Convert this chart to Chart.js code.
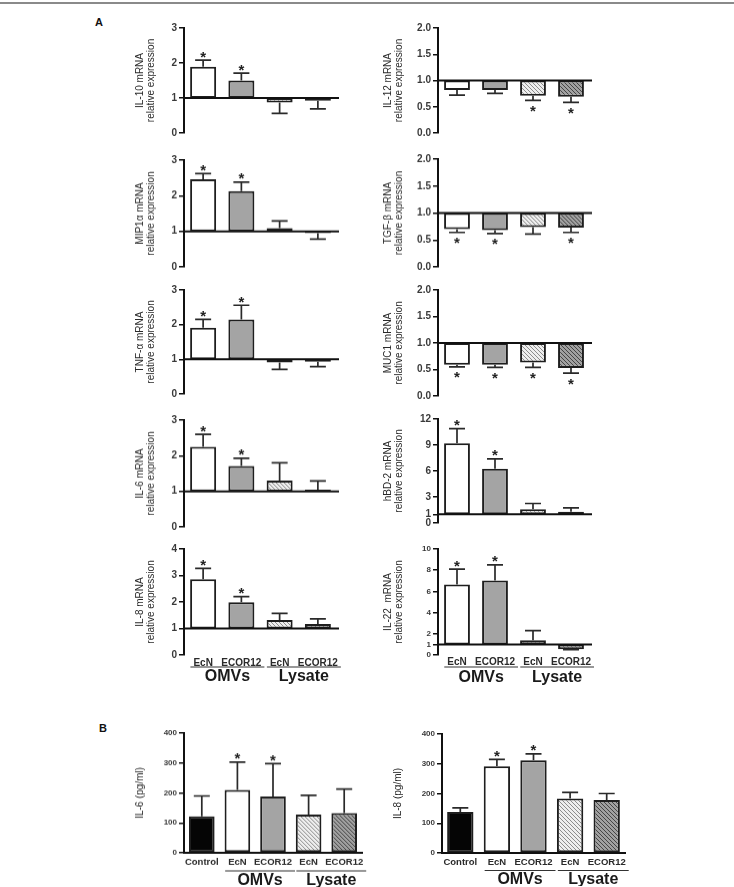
<!DOCTYPE html>
<html>
<head>
<meta charset="utf-8">
<script src="https://cdn.jsdelivr.net/npm/chart.js@4.4.0/dist/chart.umd.min.js"></script>
<style>
  body { margin: 0; background: #fff; width: 734px; height: 887px; position: relative; overflow: hidden; font-family: "Liberation Sans", Arial, sans-serif; }
  .topline { position: absolute; left: 0; top: 2px; width: 734px; height: 2px; background: #8a8a8a; }
  .lbl { position: absolute; font-weight: bold; font-size: 11px; color: #111; }
  canvas { position: absolute; }
</style>
</head>
<body>
<div class="topline"></div>
<div class="lbl" style="left:95px;top:16px">A</div>
<div class="lbl" style="left:99px;top:722px">B</div>
<div id="wrap"></div>
<script>
// ---- categories ----
const groupsA = ["EcN", "ECOR12", "EcN", "ECOR12"];
const groupsB = ["Control", "EcN", "ECOR12", "EcN", "ECOR12"];

// ---- panel A : mRNA relative expression (bars start at 1) ----
const il10Values = [1.89, 1.5, 0.87, 0.92];
const il10Errors = [2.08, 1.71, 0.56, 0.69];
const il10Stars = [1, 1, 0, 0];

const mip1aValues = [2.46, 2.13, 1.09, 0.95];
const mip1aErrors = [2.62, 2.38, 1.29, 0.78];
const mip1aStars = [1, 1, 0, 0];

const tnfaValues = [1.91, 2.15, 0.91, 0.93];
const tnfaErrors = [2.15, 2.56, 0.71, 0.79];
const tnfaStars = [1, 1, 0, 0];

const il6mValues = [2.25, 1.71, 1.3, 1.05];
const il6mErrors = [2.6, 1.93, 1.8, 1.29];
const il6mStars = [1, 1, 0, 0];

const il8mValues = [2.86, 1.99, 1.32, 1.17];
const il8mErrors = [3.27, 2.2, 1.57, 1.36];
const il8mStars = [1, 1, 0, 0];

const il12Values = [0.82, 0.82, 0.71, 0.69];
const il12Errors = [0.72, 0.755, 0.62, 0.585];
const il12Stars = [0, 0, 1, 1];

const tgfbValues = [0.70, 0.68, 0.74, 0.73];
const tgfbErrors = [0.64, 0.62, 0.61, 0.64];
const tgfbStars = [1, 1, 0, 1];

const muc1Values = [0.59, 0.59, 0.63, 0.53];
const muc1Errors = [0.55, 0.54, 0.54, 0.43];
const muc1Stars = [1, 1, 1, 1];

const hbd2Values = [9.2, 6.25, 1.6, 1.3];
const hbd2Errors = [10.9, 7.4, 2.25, 1.75];
const hbd2Stars = [1, 1, 0, 0];

const il22Values = [6.66, 7.03, 1.4, 0.55];
const il22Errors = [8.1, 8.5, 2.3, 0.5];
const il22Stars = [1, 1, 0, 0];

// ---- panel B : secreted protein (pg/ml) ----
const il6pValues = [122, 210, 188, 128, 133];
const il6pErrors = [190, 303, 298, 192, 213];
const il6pStars = [0, 1, 1, 0, 0];

const il8pValues = [138, 292, 312, 183, 178];
const il8pErrors = [152, 315, 333, 204, 200];
const il8pStars = [0, 1, 1, 0, 0];

// ---- tick labels ----
const ticks0to3 = [0, 1, 2, 3];
const ticks0to4 = [0, 1, 2, 3, 4];
const ticksHalf = [0, 0.5, 1, 1.5, 2];
const ticksHbd2 = [0, 1, 3, 6, 9, 12];
const ticksIl22 = [0, 1, 2, 4, 6, 8, 10];
const ticksPg = [0, 100, 200, 300, 400];

const FONT = "'Liberation Sans', Arial, sans-serif";

// hatched fills for the lysate bars
function hatch(bg, line) {
  const c = document.createElement("canvas");
  c.width = 4; c.height = 4;
  const g = c.getContext("2d");
  g.fillStyle = bg; g.fillRect(0, 0, 4, 4);
  g.strokeStyle = line; g.lineWidth = 1;
  g.beginPath();
  g.moveTo(-1, -1); g.lineTo(5, 5);
  g.moveTo(3, -1); g.lineTo(5, 1);
  g.moveTo(-1, 3); g.lineTo(1, 5);
  g.stroke();
  return g.createPattern(c, "repeat");
}
const lightHatch = hatch("#eeeeee", "#8c8c8c");
const darkHatch = hatch("#a0a0a0", "#454545");
const fillsA = ["#ffffff", "#a4a4a4", lightHatch, darkHatch];
const fillsB = ["#050505", "#ffffff", "#a4a4a4", lightHatch, darkHatch];

// error bars, asterisks, baseline and group labels
function marksPlugin(p) {
  return {
    id: "marks",
    afterDatasetsDraw(chart) {
      const ctx = chart.ctx;
      const y = chart.scales.y;
      const area = chart.chartArea;
      const meta = chart.getDatasetMeta(0);
      ctx.save();
      if (p.base === 1) {
        const yb = y.getPixelForValue(1);
        ctx.strokeStyle = "#111"; ctx.lineWidth = 2;
        ctx.beginPath(); ctx.moveTo(area.left, yb); ctx.lineTo(area.right + 2, yb); ctx.stroke();
      }
      p.values.forEach((v, i) => {
        const cx = meta.data[i].x;
        const y0 = y.getPixelForValue(v);
        const y1 = y.getPixelForValue(p.errors[i]);
        ctx.strokeStyle = "#2a2a2a"; ctx.lineWidth = 1.7;
        ctx.beginPath();
        ctx.moveTo(cx, y0); ctx.lineTo(cx, y1);
        ctx.moveTo(cx - 8, y1); ctx.lineTo(cx + 8, y1);
        ctx.stroke();
        if (p.stars[i]) {
          const up = p.errors[i] > v;
          const sy = up ? y1 - 7 : y1 + 7;
          ctx.fillStyle = "#222";
          ctx.font = "bold 15px " + FONT;
          ctx.textAlign = "center"; ctx.textBaseline = "alphabetic";
          ctx.fillText("*", cx, sy + 8.5);
        }
      });
      ctx.restore();
    },
    afterDraw(chart) {
      if (!p.showX) return;
      const ctx = chart.ctx;
      const x = chart.scales.x;
      const off = p.top - 8; // canvas top in page coordinates
      const first = p.labels.length === 5 ? 1 : 0;
      const labFont = "bold " + p.xSize + "px " + FONT;
      ctx.save();
      const pairs = [[first, first + 1, "OMVs"], [first + 2, first + 3, "Lysate"]];
      pairs.forEach(([a, b, name]) => {
        ctx.font = labFont;
        const xa = x.getPixelForTick(a) - ctx.measureText(p.labels[a]).width / 2 - 3;
        const xb = x.getPixelForTick(b) + ctx.measureText(p.labels[b]).width / 2 + 3;
        ctx.strokeStyle = "#333"; ctx.lineWidth = 1.2;
        ctx.beginPath(); ctx.moveTo(xa, p.lineY - off); ctx.lineTo(xb, p.lineY - off); ctx.stroke();
        ctx.fillStyle = "#1a1a1a";
        ctx.font = "bold 16px " + FONT;
        ctx.textAlign = "center"; ctx.textBaseline = "middle";
        ctx.fillText(name, (xa + xb) / 2, p.groupY - off);
      });
      ctx.restore();
    }
  };
}

function makePanel(p) {
  const yW = p.yW;
  const padTop = 8, padRight = 14;
  const xH = p.showX ? p.xH : 0;
  const padBottom = p.showX ? 0 : 8;
  const cv = document.createElement("canvas");
  const w = yW + (p.right - p.axisX) + padRight;
  const h = padTop + (p.bottom - p.top) + xH + padBottom;
  cv.width = w; cv.height = h;
  cv.style.left = (p.axisX - yW) + "px";
  cv.style.top = (p.top - padTop) + "px";
  cv.style.width = w + "px"; cv.style.height = h + "px";
  document.getElementById("wrap").appendChild(cv);

  const yFont = { family: FONT, size: p.tickSize || 10, weight: "bold" };
  const xFont = { family: FONT, size: p.xSize || 10, weight: "bold" };
  new Chart(cv.getContext("2d"), {
    type: "bar",
    data: {
      labels: p.labels,
      datasets: [{
        data: p.base === 1 ? p.values.map(v => [1, v]) : p.values,
        backgroundColor: p.fills,
        borderColor: "#1e1e1e",
        borderWidth: 2,
        borderSkipped: false,
        categoryPercentage: 1,
        barPercentage: p.barPct
      }]
    },
    options: {
      responsive: false,
      animation: false,
      layout: { padding: { top: padTop, right: padRight, bottom: padBottom, left: 0 } },
      plugins: { legend: { display: false }, tooltip: { enabled: false } },
      scales: {
        x: {
          display: p.showX ? true : false,
          grid: { display: false, drawTicks: false },
          border: { display: p.base === 0, color: "#111", width: 2 },
          ticks: { color: "#2a2a2a", font: xFont, padding: p.xPad, maxRotation: 0, autoSkip: false },
          afterFit: s => { s.height = xH; }
        },
        y: {
          min: 0, max: p.ticks[p.ticks.length - 1],
          afterFit: s => { s.width = yW; },
          afterBuildTicks: s => { s.ticks = p.ticks.map(v => ({ value: v })); },
          grid: { drawOnChartArea: false, drawTicks: true, tickLength: 5, color: "#111", lineWidth: 1.5 },
          border: { display: true, color: "#111", width: 2 },
          ticks: {
            color: "#3a3a3a", font: yFont, padding: 2,
            callback: v => p.decimals ? Number(v).toFixed(1) : String(v)
          },
          title: {
            display: true, text: p.title, color: "#2a2a2a",
            font: { family: FONT, size: 10, lineHeight: 1.1 },
            padding: { top: 1, bottom: 0 }
          }
        }
      }
    },
    plugins: [marksPlugin(p)]
  });
}

const L = { axisX: 184, right: 337, yW: 50 };
const R = { axisX: 438, right: 590, yW: 56 };
const rel = "relative expression";

const panels = [
  { ...L, top: 28, bottom: 133, title: ["IL-10 mRNA", rel], values: il10Values, errors: il10Errors, stars: il10Stars, ticks: ticks0to3 },
  { ...L, top: 160, bottom: 266.5, title: ["MIP1α mRNA", rel], values: mip1aValues, errors: mip1aErrors, stars: mip1aStars, ticks: ticks0to3 },
  { ...L, top: 290, bottom: 394, title: ["TNF-α mRNA", rel], values: tnfaValues, errors: tnfaErrors, stars: tnfaStars, ticks: ticks0to3 },
  { ...L, top: 420, bottom: 526.5, title: ["IL-6 mRNA", rel], values: il6mValues, errors: il6mErrors, stars: il6mStars, ticks: ticks0to3 },
  { ...L, top: 549, bottom: 655, title: ["IL-8 mRNA", rel], values: il8mValues, errors: il8mErrors, stars: il8mStars, ticks: ticks0to4, showX: true, xH: 34, xPad: 2, lineY: 667, groupY: 677 },
  { ...R, top: 27.5, bottom: 133.3, title: ["IL-12 mRNA", rel], values: il12Values, errors: il12Errors, stars: il12Stars, ticks: ticksHalf, decimals: true },
  { ...R, top: 159, bottom: 266.5, title: ["TGF-β mRNA", rel], values: tgfbValues, errors: tgfbErrors, stars: tgfbStars, ticks: ticksHalf, decimals: true },
  { ...R, top: 290, bottom: 396, title: ["MUC1 mRNA", rel], values: muc1Values, errors: muc1Errors, stars: muc1Stars, ticks: ticksHalf, decimals: true },
  { ...R, top: 419, bottom: 523, title: ["hBD-2 mRNA", rel], values: hbd2Values, errors: hbd2Errors, stars: hbd2Stars, ticks: ticksHbd2 },
  { ...R, top: 548.5, bottom: 655, title: ["IL-22  mRNA", rel], values: il22Values, errors: il22Errors, stars: il22Stars, ticks: ticksIl22, tickSize: 8, showX: true, xH: 34, xPad: 1, lineY: 666.5, groupY: 677 }
].map(p => ({ xSize: 10, ...p, labels: groupsA, fills: fillsA, base: 1, barPct: 0.68 }));

panels.push(
  { axisX: 184, right: 362, yW: 50, top: 733, bottom: 852.5, title: "IL-6 (pg/ml)", values: il6pValues, errors: il6pErrors, stars: il6pStars, ticks: ticksPg, tickSize: 8,
    labels: groupsB, fills: fillsB, base: 0, barPct: 0.72, showX: true, xSize: 9.5, xH: 34, xPad: 4, lineY: 870, groupY: 879.5 },
  { axisX: 442, right: 625, yW: 50, top: 734, bottom: 853, title: "IL-8 (pg/ml)", values: il8pValues, errors: il8pErrors, stars: il8pStars, ticks: ticksPg, tickSize: 8,
    labels: groupsB, fills: fillsB, base: 0, barPct: 0.72, showX: true, xSize: 9.5, xH: 33, xPad: 4, lineY: 870.5, groupY: 879.5 }
);

panels.forEach(makePanel);
</script>
</body>
</html>
